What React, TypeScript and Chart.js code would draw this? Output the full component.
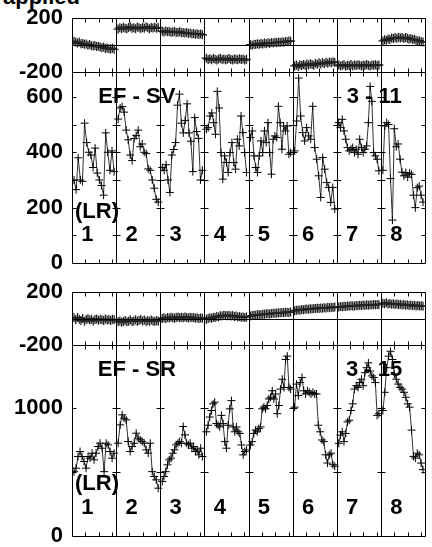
import React, { useEffect, useRef } from 'react';
import { Chart, registerables } from 'chart.js';

Chart.register(...registerables);

const FONT = "'Liberation Sans', Arial, Helvetica, sans-serif";
const SEG_WIDTH = 33;
const SEG_COUNT = 8;
const SEG_LABELS = ['1', '2', '3', '4', '5', '6', '7', '8'];
const X_TICK_OFFSETS = [10, 20, 30];
const PAD = 24;

// Panel 1: "applied" difference, EF - SV
const svDiff: number[][] = [
  [28, 20, 15, 22, 10, 12, 5, 8, -2, 3, -5, -8, -3, -12, -10, -15, -20, -14, -25, -22, -28, -30, -24, -32],
  [118, 128, 122, 132, 125, 120, 130, 135, 124, 128, 120, 133, 127, 122, 130, 125, 136, 128, 121, 130, 126, 132, 124, 129],
  [102, 96, 104, 98, 100, 94, 97, 101, 92, 95, 98, 90, 93, 88, 92, 85, 88, 82, 86, 80, 84, 78, 82, 76],
  [-98, -108, -102, -110, -100, -106, -112, -104, -98, -108, -103, -110, -105, -100, -108, -112, -104, -106, -110, -102, -108, -104, -112, -106],
  [2, -2, 6, 4, 10, 6, 12, 8, 14, 10, 16, 12, 18, 15, 20, 17, 22, 19, 25, 21, 26, 24, 30, 28],
  [-155, -148, -160, -146, -152, -144, -150, -140, -148, -138, -145, -150, -136, -142, -132, -140, -130, -138, -128, -135, -126, -132, -124, -130],
  [-148, -155, -150, -146, -158, -150, -152, -145, -155, -148, -152, -146, -150, -156, -148, -152, -145, -150, -155, -148, -150, -146, -152, -148],
  [30, 38, 35, 45, 40, 52, 48, 55, 50, 58, 52, 55, 48, 56, 50, 45, 48, 40, 42, 35, 30, 32, 25, 22],
];

// Panel 2: EF - SV values
const svValues: number[][] = [
  [300, 265, 380, 300, 295, 505, 435, 400, 390, 345, 415, 325, 300, 280, 245, 470, 400, 335, 405, 330],
  [520, 560, 565, 545, 480, 445, 390, 370, 450, 460, 480, 420, 430, 400, 395, 340, 335, 300, 270, 230, 220],
  [345, 335, 355, 300, 255, 390, 410, 435, 570, 610, 505, 470, 515, 575, 470, 440, 330, 525, 475, 450, 300, 335],
  [483, 489, 531, 542, 507, 465, 620, 560, 399, 303, 387, 363, 327, 399, 435, 363, 339, 447, 423, 531, 471, 399, 327],
  [453, 477, 387, 345, 327, 387, 441, 399, 477, 435, 507, 399, 321, 447, 459, 453, 566, 507, 411, 495, 477, 495, 393, 399],
  [405, 513, 668, 531, 471, 441, 489, 459, 447, 566, 417, 375, 315, 237, 381, 339, 291, 273, 219, 273, 195],
  [507, 489, 519, 477, 447, 417, 405, 411, 417, 399, 411, 393, 447, 417, 399, 411, 423, 507, 638, 584, 399, 387, 375, 333],
  [335, 495, 507, 500, 305, 155, 485, 420, 430, 375, 328, 315, 327, 310, 325, 320, 245, 200, 272, 278, 245, 220],
];

// Panel 3: difference, EF - SR
const srDiff: number[][] = [
  [5, -10, 8, -5, -15, 0, -20, -8, -2, -12, -5, -18, -8, -3, -14, -6, -10, -16, -4, -12, -8, -15, -6, -10],
  [-25, -18, -28, -22, -15, -25, -20, -12, -22, -18, -10, -20, -15, -8, -18, -12, -22, -15, -20, -12, -18, -22, -16, -20],
  [0, 5, -2, 8, 4, 10, 6, 2, 8, 12, 5, 10, 6, 12, 8, 4, 10, 6, 8, 2, 5, 0, 4, 2],
  [-5, 0, 5, 2, 10, 8, 15, 12, 20, 18, 25, 22, 20, 25, 18, 22, 15, 18, 12, 15, 10, 12, 8, 12],
  [18, 22, 25, 24, 28, 30, 29, 33, 32, 35, 36, 34, 38, 40, 39, 42, 41, 44, 45, 43, 47, 48, 46, 50],
  [58, 62, 65, 63, 68, 66, 70, 72, 69, 74, 72, 76, 75, 78, 76, 80, 78, 82, 80, 84, 82, 85, 83, 86],
  [86, 90, 88, 92, 90, 94, 92, 96, 94, 95, 98, 96, 100, 98, 101, 99, 103, 100, 104, 102, 105, 103, 106, 104],
  [115, 112, 118, 110, 114, 108, 112, 106, 110, 104, 108, 102, 106, 100, 104, 98, 102, 96, 100, 95, 98, 94, 96, 93],
];

// Panel 4: EF - SR values
const srValues: number[][] = [
  [502, 529, 620, 659, 620, 581, 529, 620, 607, 646, 594, 646, 698, 724, 685, 502, 724, 711, 659, 607, 646],
  [724, 867, 945, 919, 906, 737, 659, 698, 724, 802, 763, 750, 737, 724, 672, 646, 724, 502, 464, 438, 373],
  [425, 464, 502, 555, 594, 607, 646, 672, 711, 724, 737, 724, 854, 789, 724, 711, 724, 685, 698, 659, 672, 633, 685, 620],
  [813, 864, 928, 979, 1031, 1044, 877, 864, 851, 941, 877, 736, 685, 864, 992, 1056, 851, 813, 851, 813, 800, 710, 633, 659, 672],
  [710, 736, 800, 826, 813, 838, 851, 992, 1005, 992, 1018, 1069, 1082, 1133, 1069, 1108, 954, 1018, 1146, 1223, 1159, 1377, 1403, 1159, 1146],
  [1005, 1185, 1095, 1197, 1236, 1133, 1108, 1133, 1121, 1108, 1121, 1108, 1108, 864, 813, 749, 736, 633, 569, 633, 646, 556, 544],
  [723, 787, 813, 736, 800, 890, 903, 979, 1031, 1146, 1172, 1159, 1197, 1223, 1172, 1274, 1313, 1351, 1287, 1249, 1236, 1197, 941, 954],
  [979, 1121, 1313, 1403, 1441, 1377, 1262, 1223, 1185, 1159, 1146, 1121, 1082, 1031, 1005, 826, 621, 608, 646, 633, 569, 518],
];

const diffLabels = [-200, 200];
const diffTicks = [-200, 0, 200];
const svLabels = [0, 200, 400, 600];
const svTicks = [100, 200, 300, 400, 500, 600];
const srLabels = [0, 1000];
const srTicks = [500, 1000];

type TextItem = { t: string; x: number; y: number };

const framePlugin = {
  id: 'frame',
  afterDatasetsDraw(chart: any, _args: any, opts: any) {
    const { ctx, chartArea: a } = chart;
    const xs = chart.scales.x;
    const ys = chart.scales.y;
    const px = (v: number) => Math.round(xs.getPixelForValue(v)) + 0.5;
    const py = (v: number) => Math.round(ys.getPixelForValue(v)) + 0.5;
    const L = Math.round(a.left) + 0.5;
    const R = Math.round(a.right) + 0.5;
    const T = Math.round(a.top) + 0.5;
    const B = Math.round(a.bottom) + 0.5;
    const tl = 4;
    ctx.save();
    ctx.strokeStyle = '#000';
    ctx.lineWidth = 1;
    ctx.beginPath();
    ctx.rect(L, T, R - L, B - T);
    for (let k = 1; k < SEG_COUNT; k++) {
      const x = px(k * SEG_WIDTH);
      ctx.moveTo(x, T);
      ctx.lineTo(x, B);
    }
    if (opts.zeroLine) {
      const y0 = py(0);
      ctx.moveTo(L, y0);
      ctx.lineTo(R, y0);
    }
    for (let k = 0; k <= SEG_COUNT; k++) {
      const x = k === 0 ? L : k === SEG_COUNT ? R : px(k * SEG_WIDTH);
      for (const v of opts.yTicks as number[]) {
        const y = py(v);
        if (k < SEG_COUNT) { ctx.moveTo(x, y); ctx.lineTo(x + tl, y); }
        if (k > 0) { ctx.moveTo(x - tl, y); ctx.lineTo(x, y); }
      }
    }
    for (let k = 0; k < SEG_COUNT; k++) {
      for (const off of X_TICK_OFFSETS) {
        const x = px(k * SEG_WIDTH + off);
        ctx.moveTo(x, T); ctx.lineTo(x, T + tl);
        ctx.moveTo(x, B - tl); ctx.lineTo(x, B);
      }
    }
    ctx.stroke();
    ctx.fillStyle = '#000';
    ctx.font = `bold 22px ${FONT}`;
    ctx.textAlign = 'center';
    ctx.textBaseline = 'middle';
    for (const item of (opts.texts || []) as TextItem[]) {
      ctx.fillText(item.t, xs.getPixelForValue(item.x), ys.getPixelForValue(item.y));
    }
    ctx.restore();
  },
};

function makeDatasets(segs: number[][], small: boolean) {
  return segs.map((vals, k) => ({
    data: vals.map((v, i) => ({ x: k * SEG_WIDTH + 1.5 + (i * 30) / (vals.length - 1), y: v })),
    borderColor: small ? '#222' : '#333',
    borderWidth: small ? 1.5 : 1,
    pointStyle: 'cross',
    pointRadius: small ? 4.5 : 4,
    pointBorderColor: small ? '#222' : '#000',
    pointBorderWidth: small ? 1.3 : 1,
    pointBackgroundColor: 'transparent',
    fill: false,
    tension: 0,
  }));
}

function makeConfig(segs: number[][], small: boolean, min: number, max: number, labels: number[], ticks: number[], texts: TextItem[]) {
  return {
    type: 'line',
    data: { datasets: makeDatasets(segs, small) },
    options: {
      animation: false,
      responsive: false,
      layout: { padding: { top: PAD, bottom: PAD, left: 0, right: 7 } },
      plugins: {
        legend: { display: false },
        tooltip: { enabled: false },
        frame: { yTicks: ticks, zeroLine: small, texts },
      },
      scales: {
        x: { type: 'linear', min: 0, max: SEG_WIDTH * SEG_COUNT, display: false },
        y: {
          type: 'linear',
          min,
          max,
          afterFit: (s: any) => { s.width = 72; },
          afterBuildTicks: (s: any) => { s.ticks = labels.map((v) => ({ value: v })); },
          grid: { display: false, drawTicks: false },
          border: { display: false },
          ticks: {
            autoSkip: false,
            padding: 9,
            color: '#000',
            font: { family: FONT, size: 22, weight: 'bold' },
            callback: (v: any) => String(v),
          },
        },
      },
    },
    plugins: [framePlugin],
  } as any;
}

const segNumberTexts = (y: number): TextItem[] =>
  SEG_LABELS.map((t, k) => ({ t, x: k * SEG_WIDTH + 11.5, y }));

function Panel({ areaTop, areaBottom, config }: { areaTop: number; areaBottom: number; config: () => any }) {
  const ref = useRef<HTMLCanvasElement>(null);
  const top = areaTop - PAD;
  const height = areaBottom - areaTop + 2 * PAD;
  useEffect(() => {
    const chart = new Chart(ref.current as HTMLCanvasElement, config());
    return () => chart.destroy();
  }, []);
  return (
    <canvas
      ref={ref}
      width={432}
      height={height}
      style={{ position: 'absolute', left: 0, top, width: 432, height }}
    />
  );
}

export default function App() {
  return (
    <div style={{ position: 'fixed', left: 0, top: 0, width: 432, height: 547, overflow: 'hidden', background: '#fff' }}>
      <div
        style={{
          position: 'absolute',
          right: 352,
          top: -14,
          font: `bold 22px ${FONT}`,
          lineHeight: '22px',
          color: '#000',
          whiteSpace: 'nowrap',
        }}
      >
        applied
      </div>
      <Panel areaTop={18} areaBottom={72} config={() => makeConfig(svDiff, true, -200, 200, diffLabels, diffTicks, [])} />
      <Panel
        areaTop={72}
        areaBottom={263}
        config={() =>
          makeConfig(svValues, false, 0, 690, svLabels, svTicks, [
            { t: 'EF - SV', x: 48.5, y: 600 },
            { t: '3 - 11', x: 226, y: 600 },
            { t: '(LR)', x: 18.7, y: 185 },
            ...segNumberTexts(100),
          ])
        }
      />
      <Panel areaTop={292} areaBottom={345} config={() => makeConfig(srDiff, true, -200, 200, diffLabels, diffTicks, [])} />
      <Panel
        areaTop={345}
        areaBottom={536}
        config={() =>
          makeConfig(srValues, false, 0, 1490, srLabels, srTicks, [
            { t: 'EF - SR', x: 48.5, y: 1295 },
            { t: '3 - 15', x: 226, y: 1295 },
            { t: '(LR)', x: 18.7, y: 405 },
            ...segNumberTexts(220),
          ])
        }
      />
    </div>
  );
}
